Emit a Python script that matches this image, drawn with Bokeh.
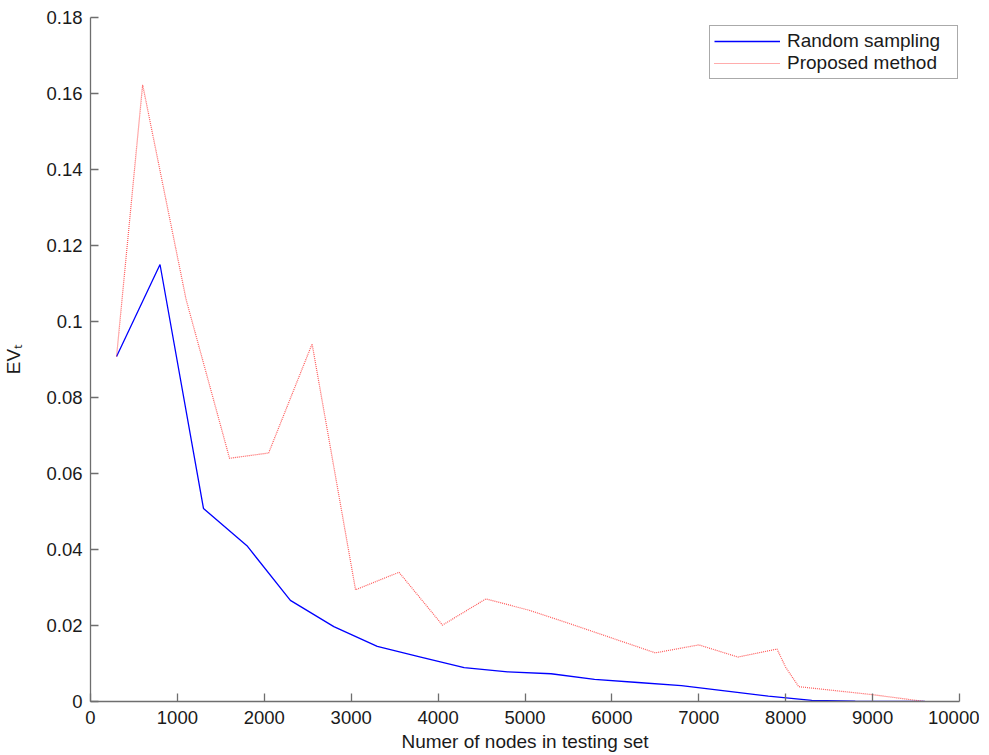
from bokeh.plotting import figure
from bokeh.models import Range1d, FixedTicker, Legend, LegendItem
from bokeh.embed import file_html
from bokeh.resources import INLINE

# ---- data ----
random_x = [300, 800, 1300, 1800, 2300, 2800, 3300, 3800, 4300, 4800, 5300, 5800,
            6300, 6800, 7300, 7800, 8300, 8800, 9300, 9600]
random_y = [0.0908, 0.115, 0.0508, 0.041, 0.0266, 0.0197, 0.0145, 0.0117, 0.0089,
            0.0078, 0.0073, 0.0058, 0.0050, 0.0042, 0.0028, 0.0014, 0.0003, 0.0001,
            0.0, 0.0]

proposed_x = [300, 600, 1100, 1600, 2050, 2550, 3050, 3550, 4050, 4550, 5050, 5500,
              6000, 6500, 7000, 7450, 7900, 8000, 8150, 9000, 9600]
proposed_y = [0.0908, 0.1623, 0.1058, 0.064, 0.0654, 0.0941, 0.0294, 0.034, 0.0201,
              0.027, 0.024, 0.0206, 0.0167, 0.0128, 0.0149, 0.0117, 0.0138, 0.009,
              0.0039, 0.0018, 0.0]

x_ticks = [0, 1000, 2000, 3000, 4000, 5000, 6000, 7000, 8000, 9000, 10000]
y_ticks = [0, 0.02, 0.04, 0.06, 0.08, 0.1, 0.12, 0.14, 0.16, 0.18]
y_tick_labels = ["0", "0.02", "0.04", "0.06", "0.08", "0.1", "0.12", "0.14", "0.16", "0.18"]

FONT = "Liberation Sans"
AXIS_COL = "#6e6e6e"
TEXT_COL = "#1a1a1a"

p = figure(output_backend="svg", toolbar_location=None,
           frame_width=869, frame_height=684,
           min_border_left=20, min_border_top=17, min_border_right=20, min_border_bottom=20,
           x_range=Range1d(0, 10000), y_range=Range1d(0, 0.18),
           x_axis_label="Numer of nodes in testing set", y_axis_label="EVₜ")

p.outline_line_color = None
p.xgrid.grid_line_color = None
p.ygrid.grid_line_color = None
p.background_fill_color = "white"
p.border_fill_color = "white"

p.xaxis.ticker = FixedTicker(ticks=x_ticks)
p.yaxis.ticker = FixedTicker(ticks=y_ticks)
p.yaxis.major_label_overrides = {t: l for t, l in zip(y_ticks, y_tick_labels)}

for ax in (p.xaxis, p.yaxis):
    ax.axis_line_color = AXIS_COL
    ax.axis_line_width = 1.3
    ax.major_tick_line_color = AXIS_COL
    ax.major_tick_line_width = 1.3
    ax.major_tick_in = 8
    ax.major_tick_out = 0
    ax.minor_tick_line_color = None
    ax.major_label_text_font = FONT
    ax.major_label_text_font_size = "18.5px"
    ax.major_label_text_color = TEXT_COL
    ax.axis_label_text_font = FONT
    ax.axis_label_text_font_size = "19px"
    ax.axis_label_text_font_style = "normal"
    ax.axis_label_text_color = TEXT_COL

p.xaxis.major_label_standoff = 9
p.xaxis.axis_label_standoff = 4
p.yaxis.major_label_standoff = 8
p.yaxis.axis_label_standoff = 19

r1 = p.line(random_x, random_y, line_color="#0000ff", line_width=1.3)
r2 = p.line(proposed_x, proposed_y, line_color="#ff3030", line_width=1.2,
            line_dash="1 1", line_alpha=0.8)

legend = Legend(items=[LegendItem(label="Random sampling", renderers=[r1]),
                       LegendItem(label="Proposed method", renderers=[r2])],
                location=(619, 622), orientation="vertical",
                padding=4, spacing=0, margin=0,
                glyph_width=66, glyph_height=20, label_height=20,
                label_standoff=7, label_width=166,
                label_text_font=FONT, label_text_font_size="19px",
                label_text_color=TEXT_COL,
                border_line_color="#555555", border_line_width=1.3,
                background_fill_color="white", background_fill_alpha=1.0)
p.add_layout(legend, "center")

open("out.html", "w").write(file_html(p, INLINE))
